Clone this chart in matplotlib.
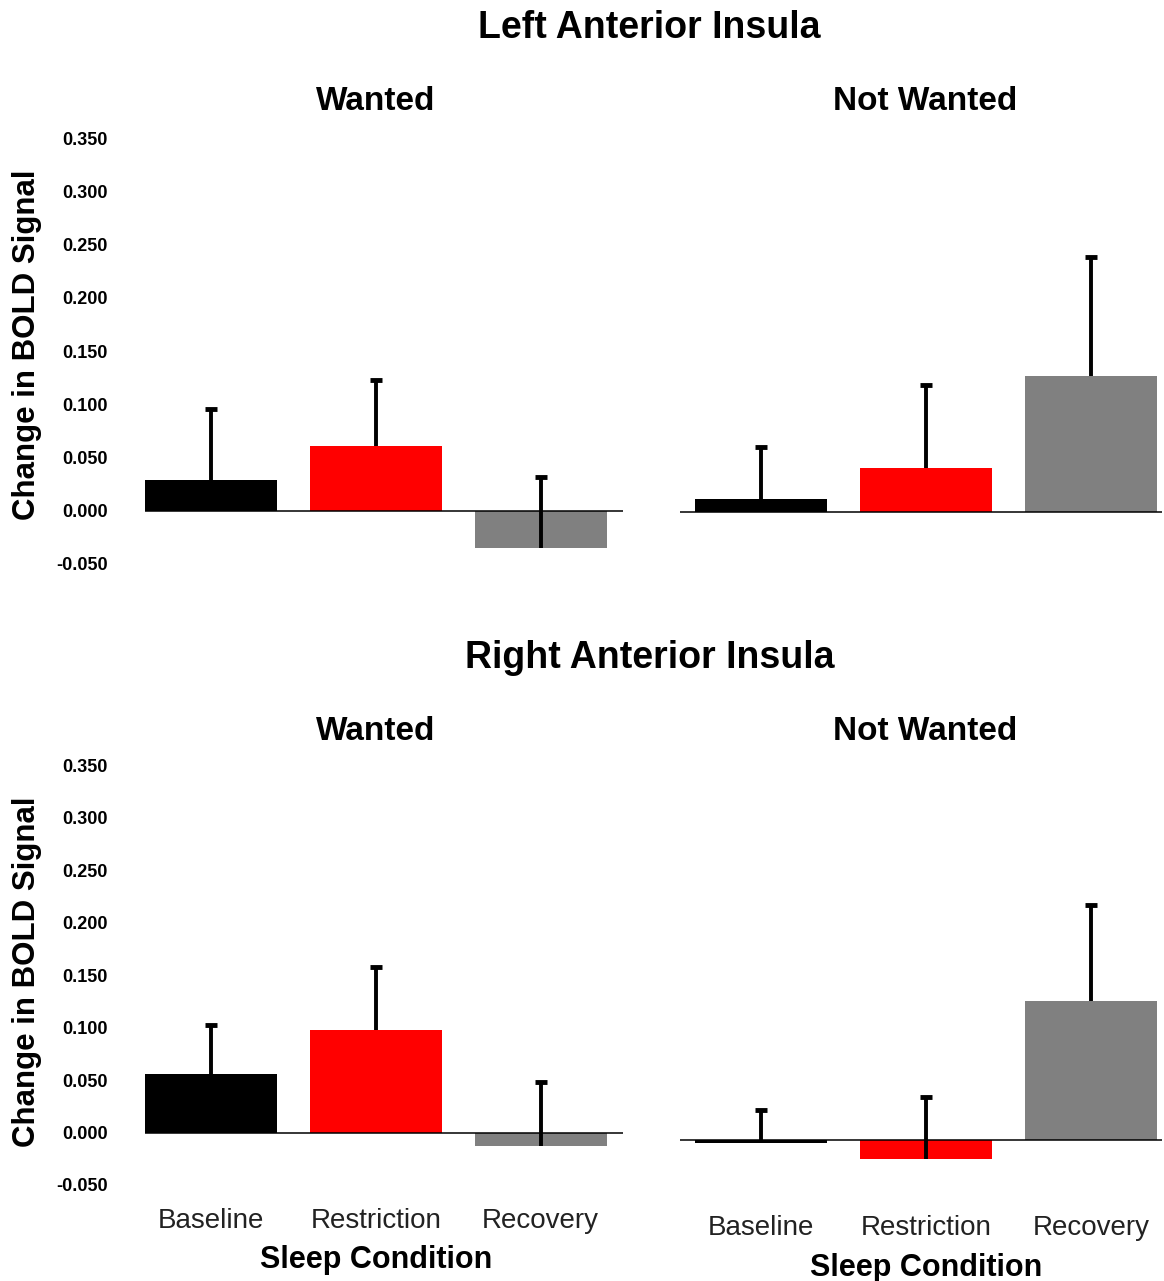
import numpy as np
import matplotlib.pyplot as plt

plt.rcParams['font.family'] = ['Liberation Sans', 'DejaVu Sans']

# Daten
conditions = ['Baseline', 'Restriction', 'Recovery']
bar_colors = ['#000000', '#ff0000', '#808080']
yticks = [-0.05, 0.0, 0.05, 0.10, 0.15, 0.20, 0.25, 0.30, 0.35]

left_wanted = [0.029, 0.061, -0.035]
left_wanted_err = [0.067, 0.062, 0.067]
left_notwanted = [0.012, 0.042, 0.128]
left_notwanted_err = [0.049, 0.078, 0.112]

right_wanted = [0.056, 0.098, -0.013]
right_wanted_err = [0.047, 0.060, 0.061]
right_notwanted = [-0.003, -0.018, 0.133]
right_notwanted_err = [0.032, 0.059, 0.091]

fig = plt.figure(figsize=(11.64, 12.81), dpi=100)

# Achsenpositionen [links, unten, breite, hoehe]
ax_tl = fig.add_axes([0.1246, 0.5515, 0.4107, 0.3488])
ax_tr = fig.add_axes([0.5842, 0.5503, 0.4141, 0.3488])
ax_bl = fig.add_axes([0.1246, 0.0668, 0.4107, 0.3438])
ax_br = fig.add_axes([0.5842, 0.0609, 0.4141, 0.3438])

panels = [
    (ax_tl, left_wanted, left_wanted_err, (-0.4, 2.5), True, False, 0.514),
    (ax_tr, left_notwanted, left_notwanted_err, (-0.49, 2.43), False, False, None),
    (ax_bl, right_wanted, right_wanted_err, (-0.4, 2.5), True, True, 0.507),
    (ax_br, right_notwanted, right_notwanted_err, (-0.49, 2.43), False, True, None),
]

x = np.arange(len(conditions))
for ax, vals, errs, xl, show_y, show_x, ylab_y in panels:
    ax.bar(x, vals, width=0.8, color=bar_colors, edgecolor='none', zorder=2)
    eb = ax.errorbar(x, vals, yerr=[np.zeros(len(errs)), errs], fmt='none',
                     ecolor='black', elinewidth=2.8, capsize=4, capthick=3.5, zorder=3)
    # nur obere Kappen behalten
    for cap in eb[1]:
        if np.allclose(cap.get_ydata(), vals):
            cap.set_visible(False)
    ax.axhline(0, color='black', lw=1.1, zorder=4)
    ax.set_xlim(*xl)
    ax.set_ylim(-0.06, 0.36)
    for s in ax.spines.values():
        s.set_visible(False)
    ax.tick_params(length=0)
    if show_y:
        ax.set_yticks(yticks)
        ax.set_yticklabels([f'{v:.3f}' for v in yticks], fontsize=13, fontweight='bold')
        ax.tick_params(axis='y', pad=27)
        ax.set_ylabel('Change in BOLD Signal', fontsize=22.5, fontweight='bold')
        ax.yaxis.set_label_coords(-0.216, ylab_y)
    else:
        ax.set_yticks([])
    if show_x:
        ax.set_xticks(x)
        ax.set_xticklabels(conditions, fontsize=20, color='#222222')
        ax.tick_params(axis='x', pad=9)
        ax.set_xlabel('Sleep Condition', fontsize=22, fontweight='bold', labelpad=8)
        # Beschriftung mittig unter dem mittleren Balken
        ax.xaxis.label.set_x((1 - xl[0]) / (xl[1] - xl[0]))
    else:
        ax.set_xticks([])

# Titel
fig.text(0.558, 0.978, 'Left Anterior Insula', ha='center', va='center', fontsize=27, fontweight='bold')
fig.text(0.323, 0.921, 'Wanted', ha='center', va='center', fontsize=24, fontweight='bold')
fig.text(0.795, 0.921, 'Not Wanted', ha='center', va='center', fontsize=24, fontweight='bold')
fig.text(0.558, 0.486, 'Right Anterior Insula', ha='center', va='center', fontsize=27, fontweight='bold')
fig.text(0.323, 0.429, 'Wanted', ha='center', va='center', fontsize=24, fontweight='bold')
fig.text(0.795, 0.429, 'Not Wanted', ha='center', va='center', fontsize=24, fontweight='bold')

plt.savefig('out.png', dpi=100)
